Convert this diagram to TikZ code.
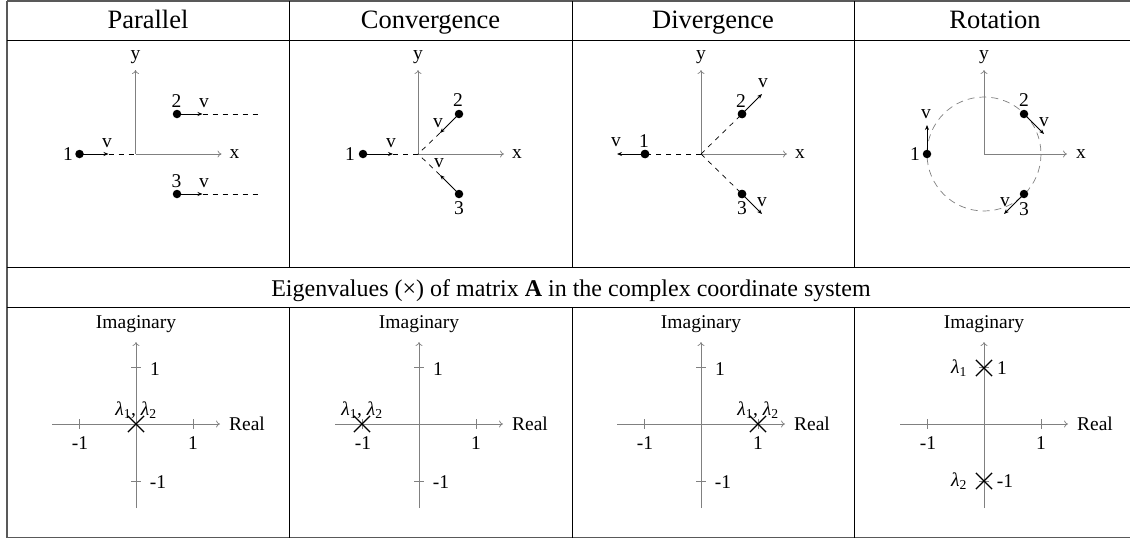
\documentclass[tikz,border=0pt]{standalone}
\usepackage{fontspec}
\setmainfont{Liberation Serif}
\usetikzlibrary{arrows.meta,shapes.misc}
\newcommand\headfont{\fontsize{26.5}{30}\selectfont}
\newcommand\eigfont{\fontsize{24}{28}\selectfont}
\newcommand\figfont{\fontsize{19.5}{22}\selectfont}
\newcommand\lam[1]{\textit{λ}\textsubscript{#1}}
\begin{document}
\begin{tikzpicture}[x=1pt,y=-1pt,
  tabrule/.style={line width=1pt},
  outerrule/.style={line width=1.2pt, black!65},
  axisline/.style={black!50, line width=0.7pt, -{To[length=4pt,width=7pt]}},
  tickmark/.style={black!50, line width=0.7pt},
  vel/.style={line width=0.8pt, -{Stealth[length=5pt,width=4pt]}},
  dashtrace/.style={line width=0.7pt, dash pattern=on 5pt off 5pt},
  circtrace/.style={black!50, line width=0.7pt, dash pattern=on 7pt off 5pt},
  pdot/.style={circle, fill, inner sep=0, minimum size=8.5pt},
  lbl/.style={inner sep=0, font=\figfont},
  headtxt/.style={inner sep=0, font=\headfont, anchor=base},
  eig/.style={cross out, draw, line width=1.2pt, minimum size=15pt, inner sep=0}
]
\useasboundingbox (0,0) rectangle (1130,538);
% ---------------- table ----------------
\draw[outerrule] (7,1) -- (1140,1);
\draw[outerrule] (7,537.5) -- (1140,537.5);
\draw[outerrule] (7,1) -- (7,538);
\draw[tabrule] (7,40) -- (1140,40);
\draw[tabrule] (7,267) -- (1140,267);
\draw[tabrule] (7,307) -- (1140,307);
\foreach \cx in {289,572,854}{
  \draw[tabrule] (\cx,1) -- (\cx,267);
  \draw[tabrule] (\cx,307) -- (\cx,538);
}
\node[headtxt] (h1) at (148,28) {Parallel};
\node[headtxt] (h2) at (430.5,28) {Convergence};
\node[headtxt] (h3) at (713,28) {Divergence};
\node[headtxt] (h4) at (995,28) {Rotation};
\node[headtxt, font=\eigfont] (h5) at (571,296) {Eigenvalues (×) of matrix \textbf{A} in the complex coordinate system};

% ---------------- Parallel ----------------
\begin{scope}[shift={(135.5,154)}]
\coordinate (ao) at (0,0);
\coordinate (ay) at (0,-84);
\coordinate (ax) at (86,0);
\draw[axisline] (ao) -- (ay);
\draw[axisline] (ao) -- (ax);
\node[lbl] (aylab) at (0,-97) {y};
\node[lbl] (axlab) at (99,0) {x};
\coordinate (aa1) at (-27,0);
\coordinate (aa2) at (67,-40);
\coordinate (aa3) at (67,40);
\coordinate (ae2) at (126.5,-40);
\coordinate (ae3) at (126.5,40);
\node[pdot] (ap1) at (-56,0) {};
\node[pdot] (ap2) at (41.5,-40) {};
\node[pdot] (ap3) at (41.5,40) {};
\draw[vel] (ap1.center) -- (aa1);
\draw[vel] (ap2.center) -- (aa2);
\draw[vel] (ap3.center) -- (aa3);
\draw[dashtrace] (aa1) -- (ao);
\draw[dashtrace] (aa2) -- (ae2);
\draw[dashtrace] (aa3) -- (ae3);
\node[lbl] (an1) at (-67.5,0) {1};
\node[lbl] (an2) at (41,-53) {2};
\node[lbl] (an3) at (41,27) {3};
\node[lbl] (av1) at (-28.5,-11) {v};
\node[lbl] (av2) at (68.5,-51) {v};
\node[lbl] (av3) at (68.5,29) {v};
\end{scope}

% ---------------- Convergence ----------------
\begin{scope}[shift={(418,154)}]
\coordinate (bo) at (0,0);
\coordinate (by) at (0,-84);
\coordinate (bx) at (86,0);
\draw[axisline] (bo) -- (by);
\draw[axisline] (bo) -- (bx);
\node[lbl] (bylab) at (0,-97) {y};
\node[lbl] (bxlab) at (99,0) {x};
\coordinate (ba1) at (-25,0);
\coordinate (ba2) at (22,-21);
\coordinate (ba3) at (22,21);
\node[pdot] (bp1) at (-55,0) {};
\node[pdot] (bp2) at (41,-40) {};
\node[pdot] (bp3) at (41,40) {};
\draw[vel] (bp1.center) -- (ba1);
\draw[vel] (bp2.center) -- (ba2);
\draw[vel] (bp3.center) -- (ba3);
\draw[dashtrace] (ba1) -- (bo);
\draw[dashtrace] (ba2) -- (bo);
\draw[dashtrace] (ba3) -- (bo);
\node[lbl] (bn1) at (-68,0) {1};
\node[lbl] (bn2) at (40,-54) {2};
\node[lbl] (bn3) at (41,54) {3};
\node[lbl] (bv1) at (-27,-11) {v};
\node[lbl] (bv2) at (20,-31) {v};
\node[lbl] (bv3) at (21,9) {v};
\end{scope}

% ---------------- Divergence ----------------
\begin{scope}[shift={(701,154)}]
\coordinate (co) at (0,0);
\coordinate (cy) at (0,-84);
\coordinate (cx) at (86,0);
\draw[axisline] (co) -- (cy);
\draw[axisline] (co) -- (cx);
\node[lbl] (cylab) at (0,-97) {y};
\node[lbl] (cxlab) at (99,0) {x};
\coordinate (ca1) at (-84,0);
\coordinate (ca2) at (61,-60);
\coordinate (ca3) at (61,60);
\node[pdot] (cp1) at (-56,0) {};
\node[pdot] (cp2) at (41,-40) {};
\node[pdot] (cp3) at (41,40) {};
\draw[dashtrace] (co) -- (cp1.center);
\draw[dashtrace] (co) -- (cp2.center);
\draw[dashtrace] (co) -- (cp3.center);
\draw[vel] (cp1.center) -- (ca1);
\draw[vel] (cp2.center) -- (ca2);
\draw[vel] (cp3.center) -- (ca3);
\node[pdot] at (cp1) {};
\node[pdot] at (cp2) {};
\node[pdot] at (cp3) {};
\node[lbl] (cn1) at (-57,-13) {1};
\node[lbl] (cn2) at (40,-53) {2};
\node[lbl] (cn3) at (41,54) {3};
\node[lbl] (cv1) at (-85,-12) {v};
\node[lbl] (cv2) at (62,-71) {v};
\node[lbl] (cv3) at (61,48) {v};
\end{scope}

% ---------------- Rotation ----------------
\begin{scope}[shift={(984,154)}]
\coordinate (do) at (0,0);
\coordinate (dy) at (0,-84);
\coordinate (dx) at (83,0);
\draw[circtrace] (do) circle[radius=57];
\draw[axisline] (do) -- (dy);
\draw[axisline] (do) -- (dx);
\node[lbl] (dylab) at (0,-97) {y};
\node[lbl] (dxlab) at (97,0) {x};
\coordinate (da1) at (-57,-29);
\coordinate (da2) at (60,-20);
\coordinate (da3) at (20,60);
\node[pdot] (dp1) at (-57,0) {};
\node[pdot] (dp2) at (40,-40) {};
\node[pdot] (dp3) at (40,40) {};
\draw[vel] (dp1.center) -- (da1);
\draw[vel] (dp2.center) -- (da2);
\draw[vel] (dp3.center) -- (da3);
\node[lbl] (dn1) at (-69,0) {1};
\node[lbl] (dn2) at (40,-54) {2};
\node[lbl] (dn3) at (40,55) {3};
\node[lbl] (dv1) at (-58,-40) {v};
\node[lbl] (dv2) at (60,-32) {v};
\node[lbl] (dv3) at (21,48) {v};
\end{scope}

% ---------------- complex planes ----------------
\foreach \ox/\pn in {136/e,419/f,701/g,984/h}{
\begin{scope}[shift={(\ox,424)}]
\coordinate (\pn o) at (0,0);
\coordinate (\pn xl) at (-84,0);
\coordinate (\pn xr) at (84,0);
\coordinate (\pn yb) at (0,84);
\coordinate (\pn yt) at (0,-82);
\draw[axisline] (\pn xl) -- (\pn xr);
\draw[axisline] (\pn yb) -- (\pn yt);
\draw[tickmark] (-57,-5) -- (-57,5);
\draw[tickmark] (57,-5) -- (57,5);
\draw[tickmark] (-5,-57) -- (5,-57);
\draw[tickmark] (-5,57) -- (5,57);
\node[lbl] (\pn tm) at (-56,19) {-1};
\node[lbl] (\pn tp) at (57,19) {1};
\node[lbl] (\pn real) at (111,0) {Real};
\node[lbl, anchor=base] (\pn imag) at (0,-96) {Imaginary};
\end{scope}
}
\begin{scope}[shift={(136,424)}]
\node[lbl] (etu) at (19,-55) {1};
\node[lbl] (etd) at (22,58) {-1};
\node[eig] (ex) at (0,0) {};
\node[lbl] (el) at (0,-14) {\lam{1}, \lam{2}};
\end{scope}
\begin{scope}[shift={(419,424)}]
\node[lbl] (ftu) at (19,-55) {1};
\node[lbl] (ftd) at (22,58) {-1};
\node[eig] (fx) at (-57,0) {};
\node[lbl] (fl) at (-57,-14) {\lam{1}, \lam{2}};
\end{scope}
\begin{scope}[shift={(701,424)}]
\node[lbl] (gtu) at (19,-55) {1};
\node[lbl] (gtd) at (22,58) {-1};
\node[eig] (gx) at (57,0) {};
\node[lbl] (gl) at (57,-14) {\lam{1}, \lam{2}};
\end{scope}
\begin{scope}[shift={(984,424)}]
\node[eig] (hx1) at (0,-56) {};
\node[eig] (hx2) at (0,57) {};
\node[lbl] (hl1) at (-25,-56) {\lam{1}};
\node[lbl] (htu) at (18,-56) {1};
\node[lbl] (hl2) at (-25,57) {\lam{2}};
\node[lbl] (htd) at (21,57) {-1};
\end{scope}
\end{tikzpicture}
\end{document}
